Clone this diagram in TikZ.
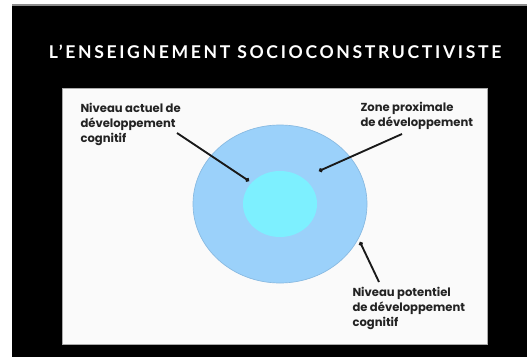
\documentclass[tikz,border=0pt]{standalone}
\usepackage{fontspec}
\setmainfont{Poppins}
\newfontfamily\titlefont[LetterSpace=15]{Lato}
\usetikzlibrary{arrows.meta}

\tikzset{every picture/.style={line width=0.75pt}}
\tikzset{
  pointer/.style={line width=1.4pt, color={rgb, 255:red, 25; green, 25; blue, 25}, -{Circle[length=3pt]}},
  label/.style={anchor=north west, inner sep=0.75pt, align=left, font=\fontsize{8.7}{11.2}\selectfont\bfseries, text={rgb, 255:red, 35; green, 35; blue, 35}}
}

\begin{document}
\begin{tikzpicture}[x=0.75pt,y=0.75pt,yscale=-1,xscale=1]
%set diagram left start at 0, and has height of 357
\useasboundingbox (0,0) rectangle (527,357);
\fill [white] (0,0) rectangle (527,357);

%Slide background
\fill [black] (12,5) rectangle (527,357);
\draw [color={rgb, 255:red, 140; green, 140; blue, 140 }, line width=1pt] (12,5) -- (527,5);

%Title
\draw (275,58) node [anchor=base, inner sep=0pt, text=white, font=\titlefont\fontsize{13.2}{15}\selectfont\bfseries] (title) {L’ENSEIGNEMENT SOCIOCONSTRUCTIVISTE};

%Picture panel
\draw [color={rgb, 255:red, 170; green, 170; blue, 170 }, fill={rgb, 255:red, 250; green, 250; blue, 250 }, line width=0.5pt] (62,88) rectangle (487,344);

%Shape: Ellipse [id:outer]
\draw [color={rgb, 255:red, 135; green, 185; blue, 225 }, fill={rgb, 255:red, 155; green, 209; blue, 250 }, line width=0.5pt] (280,204) ellipse (87 and 79);
\coordinate (outer) at (280,204);
%Shape: Ellipse [id:inner]
\fill [color={rgb, 255:red, 125; green, 240; blue, 255 }] (280,204) ellipse (37 and 33);
\coordinate (inner) at (280,204);

%Anchors of the pointers
\coordinate (actuelfrom) at (177,133);
\coordinate (actuelto) at (249,181);
\coordinate (proxfrom) at (402,134);
\coordinate (proxto) at (319,171);
\coordinate (potfrom) at (379,282);
\coordinate (potto) at (360,242);

%Straight Lines
\draw [pointer] (actuelfrom) -- (actuelto) ;
\draw [pointer] (proxfrom) -- (proxto) ;
\draw [pointer] (potfrom) -- (potto) ;

% Text Node
\draw (79,102) node [label] (actuel) {Niveau actuel de\\développement\\cognitif};
% Text Node
\draw (359,101) node [label] (prox) {Zone proximale\\de développement};
% Text Node
\draw (351,286) node [label] (pot) {Niveau potentiel\\de développement\\cognitif};

\end{tikzpicture}
\end{document}
